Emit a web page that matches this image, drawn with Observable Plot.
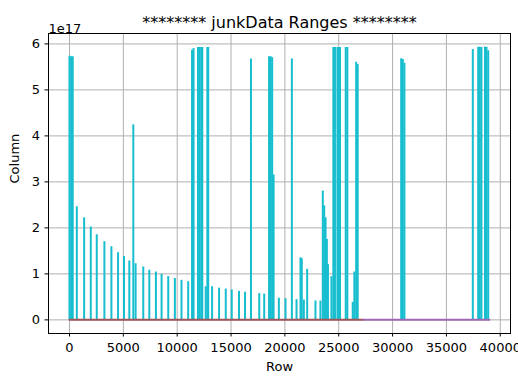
<!DOCTYPE html>
<html><head><meta charset="utf-8">
<script src="https://cdn.jsdelivr.net/npm/d3@7"></script>
<script src="https://cdn.jsdelivr.net/npm/@observablehq/plot@0.6"></script>
<style>body{margin:0;background:#fff;} svg{display:block;}</style>
</head><body><div id="chart"></div>
<script>
// Spike rows (x) and their heights (y) of the cyan series
const spikeRows = [
  0, 150, 300, 680, 1360, 1975, 2530, 3240, 3890, 4510, 5060, 5555, 5925, 6140,
  6850, 7410, 8025, 8550, 9170, 9785, 10400, 11020,
  11380, 11520, 11930, 12080, 12230, 12330, 12650, 12800, 12880,
  13240, 13890, 14510, 15065, 15740, 16300, 16850, 17620, 18080,
  18530, 18680, 18820, 18950, 19440, 20060, 20650, 21080, 21450, 21570, 21760,
  22070, 22840, 23300, 23520, 23650, 23780, 23900, 24000, 24320,
  24500, 24650, 24880, 25000, 25120, 25650, 25800, 26300, 26450, 26620, 26760,
  30800, 30950, 31100,
  37450, 37950, 38100, 38250, 38580, 38720, 38880
];
const spikeValues = [
  5.73e17, 5.72e17, 5.72e17, 2.46e17, 2.22e17, 2.02e17, 1.85e17, 1.70e17, 1.59e17, 1.46e17, 1.38e17, 1.28e17, 4.24e17, 1.22e17,
  1.15e17, 1.08e17, 1.04e17, 0.99e17, 0.94e17, 0.90e17, 0.86e17, 0.83e17,
  5.86e17, 5.90e17, 5.92e17, 5.92e17, 5.92e17, 5.92e17, 0.72e17, 5.92e17, 5.92e17,
  0.72e17, 0.69e17, 0.67e17, 0.65e17, 0.62e17, 0.60e17, 5.67e17, 0.57e17, 0.56e17,
  5.72e17, 5.72e17, 5.70e17, 3.15e17, 0.47e17, 0.46e17, 5.67e17, 0.44e17, 1.35e17, 1.33e17, 0.43e17,
  1.10e17, 0.41e17, 0.41e17, 2.80e17, 2.48e17, 2.22e17, 1.75e17, 1.20e17, 0.94e17,
  5.92e17, 5.92e17, 5.92e17, 5.92e17, 5.92e17, 5.92e17, 5.92e17, 0.38e17, 1.04e17, 5.60e17, 5.55e17,
  5.68e17, 5.66e17, 5.58e17,
  5.88e17, 5.93e17, 5.93e17, 5.92e17, 5.93e17, 5.93e17, 5.85e17
];
// Flat baseline series at zero
const baseSeries = ["brown", "purple"];
const baseStart = [0, 27300];
const baseEnd = [27300, 38980];
const baseColors = ["#a0555a", "#a068b4"];

const xTicks = [0, 5000, 10000, 15000, 20000, 25000, 30000, 35000, 40000];
const yTicks = [0, 1e17, 2e17, 3e17, 4e17, 5e17, 6e17];

const spikes = spikeRows.map((r, i) => ({row: r, value: spikeValues[i]}));
const baseline = baseSeries.flatMap((s, i) => [
  {series: s, row: baseStart[i], value: 0, color: baseColors[i]},
  {series: s, row: baseEnd[i], value: 0, color: baseColors[i]}
]);

const chart = Plot.plot({
  width: 518, height: 376,
  marginLeft: 48, marginRight: 8, marginTop: 33, marginBottom: 43,
  style: {fontFamily: "DejaVu Sans", fontSize: "13px", color: "#000", background: "#fff"},
  x: {domain: [-1950, 40950], label: null},
  y: {domain: [-0.2965e17, 6.2265e17], label: null},
  marks: [
    Plot.gridX(xTicks, {stroke: "#b0b0b0", strokeOpacity: 1, strokeWidth: 1}),
    Plot.gridY(yTicks, {stroke: "#b0b0b0", strokeOpacity: 1, strokeWidth: 1}),
    Plot.ruleX(spikes, {x: "row", y1: 0, y2: "value", stroke: "#17becf", strokeWidth: 2}),
    Plot.line(baseline, {x: "row", y: "value", z: "series", stroke: "color", strokeWidth: 2}),
    Plot.frame({stroke: "#000", strokeWidth: 1}),
    Plot.axisX(xTicks, {tickSize: 3.5, tickPadding: 6, tickFormat: d => String(d), label: null, fontSize: 13}),
    Plot.axisY(yTicks, {tickSize: 3.5, tickPadding: 5, tickFormat: d => String(Math.round(d / 1e17)), label: null, fontSize: 13}),
    Plot.text(["Row"], {frameAnchor: "bottom", dy: 37, fontSize: 13}),
    Plot.text(["Column"], {frameAnchor: "left", dx: -34, rotate: -90, fontSize: 13}),
    Plot.text(["1e17"], {frameAnchor: "top-left", dy: -10, textAnchor: "start", fontSize: 13}),
    Plot.text(["******** junkData Ranges ********"], {frameAnchor: "top", dy: -17, fontSize: 16})
  ]
});
document.getElementById("chart").appendChild(chart);
</script>
</body></html>
